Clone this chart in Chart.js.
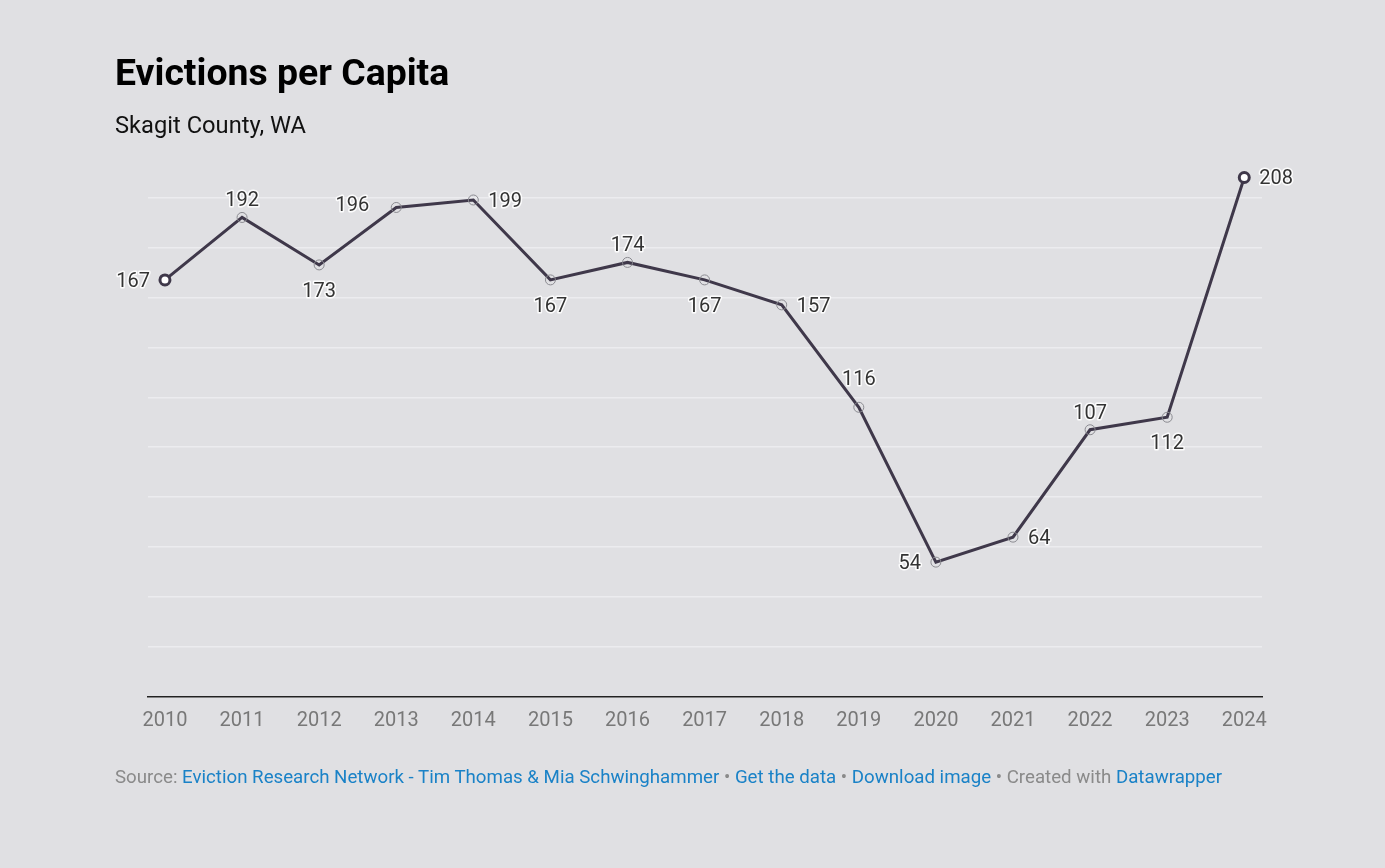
<!DOCTYPE html>
<html>
<head>
<meta charset="utf-8">
<script src="https://cdn.jsdelivr.net/npm/chart.js@4"></script>
<style>
  html, body { margin: 0; padding: 0; background: #e0e0e3; }
  body { width: 1385px; height: 868px; position: relative; overflow: hidden; font-family: Roboto, sans-serif; }
  #wrap { position: absolute; left: 0; top: 0; width: 1385px; height: 868px; }
  .txt { position: absolute; left: 115px; line-height: 1; white-space: nowrap; }
  #title { top: 54px; font-size: 37.4px; font-weight: 700; color: #000; }
  #subtitle { top: 114px; font-size: 23.7px; color: #111; }
  #footer { top: 768px; font-size: 18.7px; color: #8a8a8a; }
  #footer a { color: #1a82c7; text-decoration: none; }
</style>
</head>
<body>
<div id="wrap"><canvas id="chart"></canvas></div>
<div class="txt" id="title">Evictions per Capita</div>
<div class="txt" id="subtitle">Skagit County, WA</div>
<div class="txt" id="footer">Source: <a>Eviction Research Network - Tim Thomas &amp; Mia Schwinghammer</a> • <a>Get the data</a> • <a>Download image</a> • Created with <a>Datawrapper</a></div>
<script>
'use strict';

// ── Data ──────────────────────────────────────────────────────────────────────

const years = [2010, 2011, 2012, 2013, 2014, 2015, 2016, 2017, 2018, 2019, 2020, 2021, 2022, 2023, 2024];
const evictions = [167, 192, 173, 196, 199, 167, 174, 167, 157, 116, 54, 64, 107, 112, 208];
const gridValues = [0, 20, 40, 60, 80, 100, 120, 140, 160, 180, 200];

// where each value label sits relative to its point
const labelPlace = ['l', 't', 'b', 'tl', 'r', 'b', 't', 'b', 'r', 'tt', 'l', 'r', 't', 'b', 'r'];

// ── Style ─────────────────────────────────────────────────────────────────────

const LINE = '#3f384a';
const last = years.length - 1;
const isEnd = i => i === 0 || i === last;

const placeOffsets = {
  l:  { dx: -15, dy: 2,   align: 'right' },
  r:  { dx: 15,  dy: 2,   align: 'left' },
  t:  { dx: 0,   dy: -16, align: 'center' },
  tt: { dx: 0,   dy: -27, align: 'center' },
  b:  { dx: 0,   dy: 27,  align: 'center' },
  tl: { dx: -27, dy: -1,  align: 'right' },
};

const valueLabels = {
  id: 'valueLabels',
  afterDatasetsDraw(chart) {
    const { ctx } = chart;
    const pts = chart.getDatasetMeta(0).data;
    ctx.save();
    ctx.font = '20px Roboto, sans-serif';
    ctx.textBaseline = 'middle';
    ctx.lineJoin = 'round';
    pts.forEach((p, i) => {
      const o = placeOffsets[labelPlace[i]];
      const x = p.x + o.dx;
      const y = p.y + o.dy;
      ctx.textAlign = o.align;
      ctx.strokeStyle = 'rgba(255,255,255,0.9)';
      ctx.lineWidth = 3;
      ctx.strokeText(String(evictions[i]), x, y);
      ctx.fillStyle = '#333';
      ctx.fillText(String(evictions[i]), x, y);
    });
    ctx.restore();
  },
};

// ── Chart ─────────────────────────────────────────────────────────────────────

new Chart(document.getElementById('chart'), {
  type: 'line',
  data: {
    datasets: [{
      data: years.map((y, i) => ({ x: y, y: evictions[i] })),
      borderColor: LINE,
      borderWidth: 3,
      tension: 0,
      pointRadius: 5,
      pointHoverRadius: 5,
      pointBackgroundColor: years.map((_, i) => isEnd(i) ? '#fff' : 'rgba(0,0,0,0)'),
      pointBorderColor: years.map((_, i) => isEnd(i) ? LINE : '#8a8a90'),
      pointBorderWidth: years.map((_, i) => isEnd(i) ? 3 : 1),
      clip: false,
    }],
  },
  options: {
    responsive: true,
    maintainAspectRatio: false,
    animation: false,
    events: [],
    layout: { padding: { left: 148, right: 123, top: 170, bottom: 123 } },
    plugins: { legend: { display: false }, tooltip: { enabled: false } },
    scales: {
      x: {
        type: 'linear',
        min: 2009.78,
        max: 2024.23,
        afterBuildTicks: axis => { axis.ticks = years.map(v => ({ value: v })); },
        grid: { display: false, drawTicks: false },
        border: { display: true, color: '#222', width: 1.5 },
        ticks: {
          color: '#787878',
          font: { family: 'Roboto', size: 20 },
          padding: 12,
          autoSkip: false,
          maxRotation: 0,
          callback: v => String(v),
        },
      },
      y: {
        min: 0,
        max: 211,
        afterBuildTicks: axis => { axis.ticks = gridValues.map(v => ({ value: v })); },
        grid: { color: '#ececef', lineWidth: 1.5, drawTicks: false },
        border: { display: false },
        ticks: { display: false },
      },
    },
  },
  plugins: [valueLabels],
});
</script>
</body>
</html>
